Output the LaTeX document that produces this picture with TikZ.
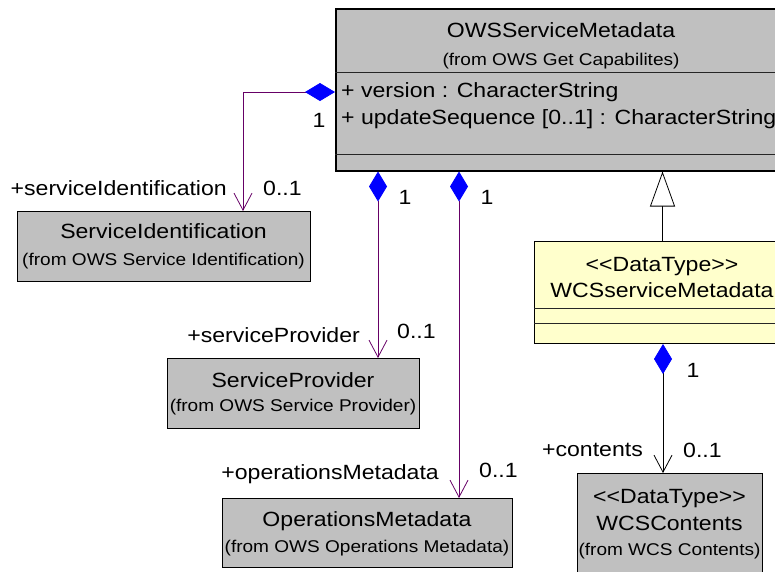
\documentclass[tikz,border=0pt]{standalone}
\usepackage{fontspec}
\newfontfamily\umlf{Liberation Sans}[FakeStretch=1.12]
\usetikzlibrary{arrows.meta}
\definecolor{boxgray}{RGB}{192,192,192}
\definecolor{dtyellow}{RGB}{255,255,204}
\definecolor{assocpurple}{RGB}{102,0,102}
\begin{document}
\begin{tikzpicture}[x=1pt,y=-1pt,
  umlbox/.style={draw=black, line width=1pt, fill=boxgray, rectangle, anchor=north west, inner sep=0pt},
  dtbox/.style={umlbox, fill=dtyellow},
  big/.style={font=\umlf\fontsize{20.6}{24}\selectfont, inner sep=0pt, anchor=base},
  small/.style={font=\umlf\fontsize{17}{20}\selectfont, inner sep=0pt, anchor=base},
  divider/.style={line width=0.9pt, draw=black!85},
  agg/.style={line width=0.8pt, {Diamond[length=30pt,width=18pt,fill=blue,color=blue]}-{Straight Barb[length=17pt,width=18pt]}},
  gen/.style={line width=0.8pt, black, -{Triangle[open,length=35pt,width=25pt,fill=white]}},
]
\useasboundingbox (0,0) rectangle (775,571);
\clip (0,0) rectangle (775,571);

% ---------- OWSServiceMetadata ----------
\node[umlbox, line width=1.5pt, minimum width=452pt, minimum height=162pt] (ows) at (335,8) {};
\draw[divider] (ows.west |- 0,72) -- (ows.east |- 0,72);
\draw[divider] (ows.west |- 0,154) -- (ows.east |- 0,154);
\node[big] (owst) at (561,37.5) {OWSServiceMetadata};
\node[small] (owss) at (561,65) {(from OWS Get Capabilites)};
\node[big, anchor=base west] (owsa1) at (341,97) {+ version : CharacterString};
\node[big, anchor=base west] (owsa2) at (341,124) {+ updateSequence [0..1] : CharacterString};

% ---------- ServiceIdentification ----------
\node[umlbox, minimum width=293pt, minimum height=70pt] (si) at (17,211) {};
\node[big] (sit) at (163.5,238) {ServiceIdentification};
\node[small] (sis) at (163.5,265) {(from OWS Service Identification)};

% ---------- ServiceProvider ----------
\node[umlbox, minimum width=252pt, minimum height=70pt] (sp) at (167,358) {};
\node[big] (spt) at (293,387) {ServiceProvider};
\node[small] (sps) at (293,411) {(from OWS Service Provider)};

% ---------- OperationsMetadata ----------
\node[umlbox, minimum width=290pt, minimum height=69pt] (om) at (222,498) {};
\node[big] (omt) at (367,526) {OperationsMetadata};
\node[small] (oms) at (367,552) {(from OWS Operations Metadata)};

% ---------- WCSserviceMetadata ----------
\node[dtbox, minimum width=256pt, minimum height=102pt] (wcs) at (534,241) {};
\draw[divider] (wcs.west |- 0,308) -- (wcs.east |- 0,308);
\draw[divider] (wcs.west |- 0,323) -- (wcs.east |- 0,323);
\node[big] (wcst1) at (662,271) {<<DataType>>};
\node[big] (wcst2) at (662,297) {WCSserviceMetadata};

% ---------- WCSContents ----------
\node[umlbox, minimum width=185pt, minimum height=110pt] (wc) at (577,473) {};
\node[big] (wct1) at (669.5,503) {<<DataType>>};
\node[big] (wct2) at (669.5,530) {WCSContents};
\node[small] (wcs3) at (669.5,555) {(from WCS Contents)};

% ---------- connectors ----------
\draw[agg, assocpurple] (ows.west |- 0,92) -| (si.north -| 243,0);
\draw[agg, assocpurple] (ows.south -| 378,0) -- (sp.north -| 378,0);
\draw[agg, assocpurple] (ows.south -| 459,0) -- (om.north -| 459,0);
\draw[gen] (wcs.north) -- (ows.south -| wcs.north);
\draw[agg, black] (wcs.south -| 663,0) -- (wc.north -| 663,0);

% ---------- labels ----------
\node[big] (m1) at (319,127) {1};
\node[big, anchor=base east] (r1) at (227,195) {+serviceIdentification};
\node[big, anchor=base west] (c1) at (263,195) {0..1};
\node[big] (m2) at (405,204) {1};
\node[big, anchor=base east] (r2) at (360,342) {+serviceProvider};
\node[big, anchor=base west] (c2) at (397,338) {0..1};
\node[big] (m3) at (487,204) {1};
\node[big, anchor=base east] (r3) at (439,479) {+operationsMetadata};
\node[big, anchor=base west] (c3) at (479,477) {0..1};
\node[big] (m4) at (693,377) {1};
\node[big, anchor=base east] (r4) at (643,456) {+contents};
\node[big, anchor=base west] (c4) at (683,457) {0..1};
\end{tikzpicture}
\end{document}
